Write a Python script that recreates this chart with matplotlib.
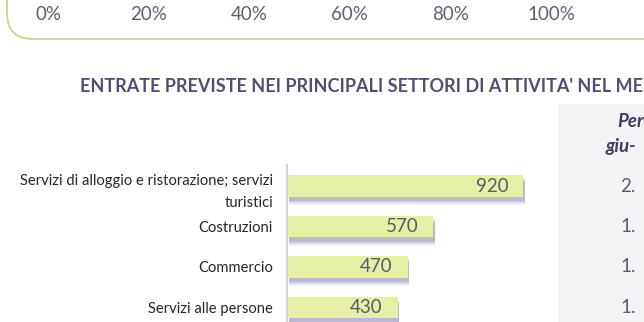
import numpy as np
import matplotlib.pyplot as plt
import matplotlib.patheffects as pe
from matplotlib.patches import FancyBboxPatch, Rectangle

plt.rcParams['font.family'] = ['Lato', 'DejaVu Sans']

# scale of the chart above (only its tick labels are visible in the crop)
pct_ticks = [0, 20, 40, 60, 80, 100]

# title and side table are cut by the right edge of the picture
title = "ENTRATE PREVISTE NEI PRINCIPALI SETTORI DI ATTIVITA' NEL ME"
sectors = ["Servizi di alloggio e ristorazione; servizi\nturistici",
           "Costruzioni",
           "Commercio",
           "Servizi alle persone"]
entries = [920, 570, 470, 430]

period_head = ["Per", "giu-"]
period_values = ["2.", "1.", "1.", "1."]

W, H = 644, 322
fig = plt.figure(figsize=(W/100, H/100), dpi=100)

# canvas in pixel units for the decorations
bg = fig.add_axes([0, 0, 1, 1])
bg.set_xlim(0, W)
bg.set_ylim(H, 0)
bg.axis('off')
bg.add_patch(FancyBboxPatch((7, -60), 700, 99, boxstyle="round,pad=0,rounding_size=26",
                            fill=False, ec='#c5d68c', lw=1.3))
bg.add_patch(Rectangle((558, 104), 100, 230, fc='#f4f4f6', ec='none'))
bg.text(80, 86, title, fontsize=13, fontweight='bold', color='#4f4f73', va='center', ha='left')
bg.text(617, 121, period_head[0], fontsize=13.5, fontweight='bold', style='italic',
        color='#3f3f5f', va='center', ha='left')
bg.text(606, 146, period_head[1], fontsize=13.5, fontweight='bold', style='italic',
        color='#3f3f5f', va='center', ha='left')

# percentage labels of the upper chart
ax_top = fig.add_axes([48/W, 1 - 14.5/H, 503/W, 0.0001])
ax_top.set_xlim(0, 100)
ax_top.set_xticks(pct_ticks)
ax_top.set_xticklabels([f"{p}%" for p in pct_ticks])
ax_top.tick_params(length=0, pad=0, labelsize=13.5, labelcolor='#5f5f73')
plt.setp(ax_top.get_xticklabels(), va='center')
ax_top.set_yticks([])
for s in ax_top.spines.values():
    s.set_visible(False)
ax_top.patch.set_alpha(0)

# bar chart
ax = fig.add_axes([287/W, 0, 257/W, 157/H])
ax.patch.set_alpha(0)
ypos = np.arange(len(entries))
shadow = [pe.SimplePatchShadow(offset=(1.2, -6), shadow_rgbFace='#8886b0', alpha=0.12),
          pe.SimplePatchShadow(offset=(1.2, -4.5), shadow_rgbFace='#8886b0', alpha=0.25),
          pe.SimplePatchShadow(offset=(1.2, -3), shadow_rgbFace='#8886b0', alpha=0.35),
          pe.Normal()]
bars = ax.barh(ypos, entries, height=0.54, color='#e5f0a6', path_effects=shadow)
ax.set_xlim(0, 1000)
ax.set_ylim(3.36, -0.52)
ax.set_yticks(ypos)
ax.set_yticklabels(sectors, fontsize=10.6, color='#262626', linespacing=1.75)
ax.tick_params(length=0, pad=10)
ax.set_xticks([])
for k in ['top', 'right', 'bottom']:
    ax.spines[k].set_visible(False)
ax.spines['left'].set_color('#d4d4d4')
ax.spines['left'].set_linewidth(1.5)

for y, v in zip(ypos, entries):
    ax.annotate(str(v), (v, y), xytext=(-11, 0), textcoords='offset points',
                ha='right', va='center', fontsize=13.5, color='#5a5a6a')

for y, t in zip(ypos, period_values):
    ax.text(1.296, y, t, transform=ax.get_yaxis_transform(), fontsize=13.5,
            color='#5a5a6a', va='center', ha='left', clip_on=False)

fig.savefig('out.png', dpi=100)
